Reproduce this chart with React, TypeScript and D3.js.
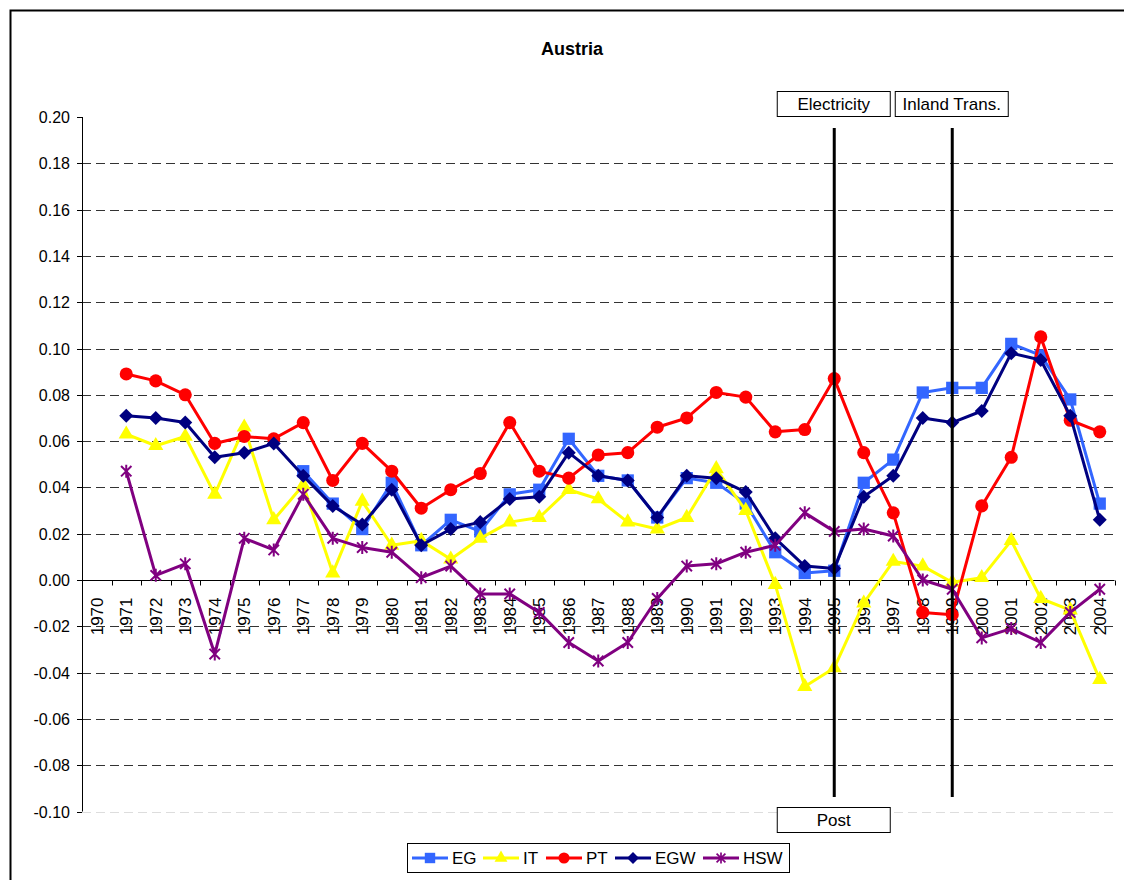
import React, { useEffect, useRef } from 'react';
import * as d3 from 'd3';

// years on the category axis
const years: string[] = d3.range(1970, 2005).map(String);

// values, one per year (null = no point)
const egValues: (number | null)[] = [
  null, null, null, null, null, null, null, 0.047, 0.033, 0.022,
  0.042, 0.015, 0.026, 0.021, 0.037, 0.039, 0.061, 0.045, 0.043, 0.027,
  0.044, 0.042, 0.033, 0.012, 0.003, 0.004, 0.042, 0.052, 0.081, 0.083,
  0.083, 0.102, 0.097, 0.078, 0.033,
];
const itValues: (number | null)[] = [
  null, 0.063, 0.058, 0.062, 0.037, 0.066, 0.026, 0.041, 0.003, 0.034,
  0.015, 0.017, 0.009, 0.018, 0.025, 0.027, 0.039, 0.035, 0.025, 0.022,
  0.027, 0.048, 0.030, -0.002, -0.046, -0.038, -0.010, 0.008, 0.006, -0.001,
  0.001, 0.017, -0.008, -0.013, -0.043,
];
const ptValues: (number | null)[] = [
  null, 0.089, 0.086, 0.080, 0.059, 0.062, 0.061, 0.068, 0.043, 0.059,
  0.047, 0.031, 0.039, 0.046, 0.068, 0.047, 0.044, 0.054, 0.055, 0.066,
  0.070, 0.081, 0.079, 0.064, 0.065, 0.087, 0.055, 0.029, -0.014, -0.015,
  0.032, 0.053, 0.105, 0.069, 0.064,
];
const egwValues: (number | null)[] = [
  null, 0.071, 0.070, 0.068, 0.053, 0.055, 0.059, 0.045, 0.032, 0.024,
  0.039, 0.015, 0.022, 0.025, 0.035, 0.036, 0.055, 0.045, 0.043, 0.027,
  0.045, 0.044, 0.038, 0.018, 0.006, 0.005, 0.036, 0.045, 0.070, 0.068,
  0.073, 0.098, 0.095, 0.071, 0.026,
];
const hswValues: (number | null)[] = [
  null, 0.047, 0.002, 0.007, -0.032, 0.018, 0.013, 0.037, 0.018, 0.014,
  0.012, 0.001, 0.006, -0.006, -0.006, -0.014, -0.027, -0.035, -0.027, -0.008,
  0.006, 0.007, 0.012, 0.015, 0.029, 0.021, 0.022, 0.019, 0.000, -0.004,
  -0.025, -0.021, -0.027, -0.014, -0.004,
];

const yTicks: number[] = [-0.1, -0.08, -0.06, -0.04, -0.02, 0, 0.02, 0.04, 0.06, 0.08, 0.1, 0.12, 0.14, 0.16, 0.18, 0.2];

const seriesNames = ['EG', 'IT', 'PT', 'EGW', 'HSW'];
const seriesColors = ['#3366ff', '#ffff00', '#ff0000', '#000080', '#800080'];
const seriesMarkers = ['square', 'triangle', 'circle', 'diamond', 'star'];
const seriesData = [egValues, itValues, ptValues, egwValues, hswValues];

// event markers: label, year of vertical line, position of label box
const eventLabels = ['Electricity', 'Inland Trans.', 'Post'];
const eventYears = ['1995', '1999', '1995'];
const eventTop = [true, true, false];

const FONT = '"Liberation Sans", Arial, sans-serif';

function markerPath(kind: string): string {
  if (kind === 'star') {
    const r = 6.5;
    const d = r * 0.8;
    return `M0,${-r}L0,${r}M${-d},${-d}L${d},${d}M${-d},${d}L${d},${-d}`;
  }
  const sym =
    kind === 'square' ? d3.symbolSquare :
    kind === 'triangle' ? d3.symbolTriangle :
    kind === 'diamond' ? d3.symbolDiamond2 : d3.symbolCircle;
  const size = kind === 'square' ? 150 : kind === 'triangle' ? 100 : kind === 'diamond' ? 125 : 135;
  return d3.symbol().type(sym).size(size)() as string;
}

function App() {
  const ref = useRef<SVGSVGElement>(null);

  useEffect(() => {
    const node = ref.current;
    if (!node) return;
    const svg = d3.select(node);
    svg.selectAll('*').remove();

    const left = 82, right = 1114.5;
    const x = d3.scaleBand<string>().domain(years).range([left, right]);
    const y = d3.scaleLinear().domain([-0.1, 0.2]).range([811.5, 117]);
    const cx = (yr: string) => (x(yr) as number) + x.bandwidth() / 2;

    // outer frame
    svg.append('rect')
      .attr('x', 10.5).attr('y', 10.5)
      .attr('width', 1200).attr('height', 1000)
      .style('fill', '#fff').style('stroke', '#000').style('stroke-width', 2);

    // title
    svg.append('text')
      .attr('x', 572).attr('y', 55)
      .attr('text-anchor', 'middle')
      .style('font-family', FONT).style('font-size', '18px').style('font-weight', 'bold')
      .text('Austria');

    // gridlines
    yTicks.forEach(t => {
      if (t === 0 || t === 0.2) return;
      svg.append('line')
        .attr('x1', left).attr('x2', right)
        .attr('y1', Math.round(y(t)) + 0.5).attr('y2', Math.round(y(t)) + 0.5)
        .style('stroke', t === -0.1 ? '#ddd' : '#333')
        .style('stroke-width', 1)
        .style('stroke-dasharray', '9,5');
    });

    // y axis
    const yAxis = svg.append('g');
    yAxis.append('line')
      .attr('x1', left + 0.5).attr('x2', left + 0.5)
      .attr('y1', y(0.2)).attr('y2', y(-0.1))
      .style('stroke', '#000');
    yTicks.forEach(t => {
      const py = Math.round(y(t)) + 0.5;
      yAxis.append('line')
        .attr('x1', left - 5).attr('x2', left)
        .attr('y1', py).attr('y2', py)
        .style('stroke', '#000');
      yAxis.append('text')
        .attr('x', 70).attr('y', py)
        .attr('dy', '0.35em')
        .attr('text-anchor', 'end')
        .style('font-family', FONT).style('font-size', '16px')
        .text(t.toFixed(2));
    });

    // x axis on zero
    const y0 = Math.round(y(0)) + 0.5;
    svg.append('line')
      .attr('x1', left).attr('x2', right)
      .attr('y1', y0).attr('y2', y0)
      .style('stroke', '#000');
    d3.range(years.length + 1).forEach(i => {
      const px = Math.round(left + i * x.bandwidth()) + 0.5;
      svg.append('line')
        .attr('x1', px).attr('x2', px)
        .attr('y1', y0).attr('y2', y0 + 5)
        .style('stroke', '#000');
    });
    years.forEach(yr => {
      svg.append('text')
        .attr('transform', `translate(${cx(yr)},${y0 + 17}) rotate(-90)`)
        .attr('dy', '0.36em')
        .attr('text-anchor', 'end')
        .style('font-family', FONT).style('font-size', '17px')
        .text(yr);
    });

    // series
    seriesData.forEach((vals, si) => {
      const pts = years.map((yr, i) => ({ yr, v: vals[i] }));
      const line = d3.line<{ yr: string; v: number | null }>()
        .defined(d => d.v !== null)
        .x(d => cx(d.yr))
        .y(d => y(d.v as number));
      svg.append('path')
        .attr('d', line(pts))
        .style('fill', 'none')
        .style('stroke', seriesColors[si])
        .style('stroke-width', 3)
        .style('stroke-linejoin', 'round');
      const kind = seriesMarkers[si];
      svg.append('g').selectAll('path')
        .data(pts.filter(d => d.v !== null))
        .enter().append('path')
        .attr('transform', d => `translate(${cx(d.yr)},${y(d.v as number)})`)
        .attr('d', markerPath(kind))
        .style('fill', kind === 'star' ? 'none' : seriesColors[si])
        .style('stroke', seriesColors[si])
        .style('stroke-width', kind === 'star' ? 2 : 0);
    });

    // event lines and label boxes
    const drawn: Record<string, boolean> = {};
    eventLabels.forEach((lab, i) => {
      const px = cx(eventYears[i]);
      if (!drawn[eventYears[i]]) {
        drawn[eventYears[i]] = true;
        svg.append('line')
          .attr('x1', px).attr('x2', px)
          .attr('y1', 128).attr('y2', 797)
          .style('stroke', '#000').style('stroke-width', 3);
      }
      const w = 113, h = 25;
      const bx = px - 57;
      const by = eventTop[i] ? 91.5 : 807.5;
      svg.append('rect')
        .attr('x', bx).attr('y', by)
        .attr('width', w).attr('height', h)
        .style('fill', '#fff').style('stroke', '#000').style('stroke-width', 1);
      svg.append('text')
        .attr('x', bx + w / 2).attr('y', by + h / 2)
        .attr('dy', '0.36em')
        .attr('text-anchor', 'middle')
        .style('font-family', FONT).style('font-size', '17px')
        .text(lab);
    });

    // legend
    const lg = svg.append('g');
    lg.append('rect')
      .attr('x', 407.5).attr('y', 843.5)
      .attr('width', 382).attr('height', 29)
      .style('fill', '#fff').style('stroke', '#000').style('stroke-width', 1);
    const itemX = [412, 483, 546, 615, 703];
    seriesNames.forEach((name, si) => {
      const lx = itemX[si];
      const ly = 858;
      lg.append('line')
        .attr('x1', lx).attr('x2', lx + 36)
        .attr('y1', ly).attr('y2', ly)
        .style('stroke', seriesColors[si]).style('stroke-width', 3);
      const kind = seriesMarkers[si];
      lg.append('path')
        .attr('transform', `translate(${lx + 18},${ly}) scale(0.85)`)
        .attr('d', markerPath(kind))
        .style('fill', kind === 'star' ? 'none' : seriesColors[si])
        .style('stroke', seriesColors[si])
        .style('stroke-width', kind === 'star' ? 2 : 0);
      lg.append('text')
        .attr('x', lx + 40).attr('y', ly)
        .attr('dy', '0.36em')
        .style('font-family', FONT).style('font-size', '17px')
        .text(name);
    });
  }, []);

  return (
    <svg ref={ref} width={1124} height={880}
         style={{ position: 'absolute', left: 0, top: 0, display: 'block', background: '#fff' }} />
  );
}

export default App;
